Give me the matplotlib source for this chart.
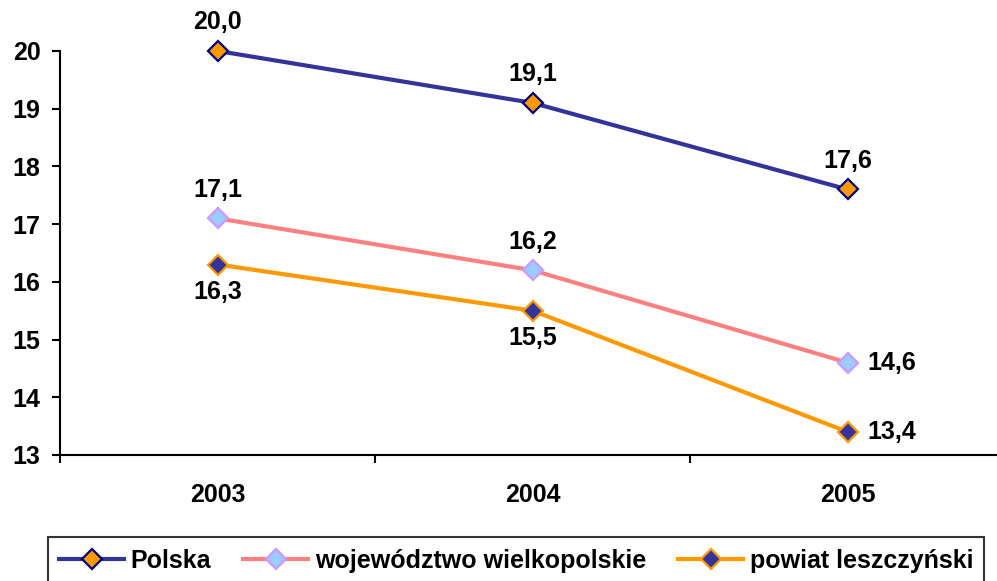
import matplotlib.pyplot as plt
import numpy as np

plt.rcParams['font.family'] = ['Liberation Sans', 'DejaVu Sans']
plt.rcParams['font.weight'] = 'bold'

years = ['2003', '2004', '2005']
polska = [20.0, 19.1, 17.6]
wlkp = [17.1, 16.2, 14.6]
powiat = [16.3, 15.5, 13.4]

# label placement per point: 'a' above, 'b' below, 'r' right
pos_polska = ['a', 'a', 'a']
pos_wlkp = ['a', 'a', 'r']
pos_powiat = ['b', 'b', 'r']

fig = plt.figure(figsize=(9.97, 5.81), dpi=100)
ax = fig.add_axes([0.0602, 0.2169, 0.948, 0.6954])

x = np.arange(len(years))
series = [
    (polska, 'Polska', '#333399', '#FF9900', '#000080', pos_polska),
    (wlkp, 'województwo wielkopolskie', '#FF8080', '#99CCFF', '#CC99FF', pos_wlkp),
    (powiat, 'powiat leszczyński', '#FF9900', '#333399', '#FF9900', pos_powiat),
]
for vals, name, lc, fc, ec, pos in series:
    ax.plot(x, vals, color=lc, lw=3, marker='D', ms=10, mfc=fc, mec=ec, mew=1.6,
            label=name, clip_on=False, zorder=3)
    for xi, v, p in zip(x, vals, pos):
        txt = f'{v:.1f}'.replace('.', ',')
        if p == 'a':
            ax.annotate(txt, (xi, v), xytext=(0, 12), textcoords='offset points',
                        ha='center', va='bottom', fontsize=18, fontweight='bold')
        elif p == 'b':
            ax.annotate(txt, (xi, v), xytext=(0, -11), textcoords='offset points',
                        ha='center', va='top', fontsize=18, fontweight='bold')
        else:
            ax.annotate(txt, (xi, v), xytext=(14, 0), textcoords='offset points',
                        ha='left', va='center', fontsize=18, fontweight='bold')

ax.set_xlim(-0.5, 2.5)
ax.set_ylim(13, 20)
ax.set_yticks(range(13, 21))
ax.set_xticks([-0.5, 0.5, 1.5, 2.5])
ax.set_xticklabels([])
ax.set_xticks(x, minor=True)
ax.set_xticklabels(years, minor=True)
ax.tick_params(axis='x', which='minor', length=0, pad=20, labelsize=18)
ax.tick_params(axis='x', which='major', length=6, width=1.5, direction='out')
ax.tick_params(axis='y', length=6, width=1.5, labelsize=18, pad=8)
for lab in ax.get_yticklabels() + ax.get_xticklabels(minor=True):
    lab.set_fontweight('bold')
ax.spines['top'].set_visible(False)
ax.spines['right'].set_visible(False)
ax.spines['left'].set_linewidth(1.5)
ax.spines['bottom'].set_linewidth(1.5)

leg = fig.legend(loc='upper left', bbox_to_anchor=(0.048, 0.075), ncol=3,
                 frameon=True, fancybox=False, edgecolor='black',
                 handlelength=2.6, handletextpad=0.25, columnspacing=1.3,
                 borderpad=0.45, borderaxespad=0,
                 prop={'weight': 'bold', 'size': 18})
leg.get_frame().set_linewidth(1.5)

fig.savefig('out.png', dpi=100)
